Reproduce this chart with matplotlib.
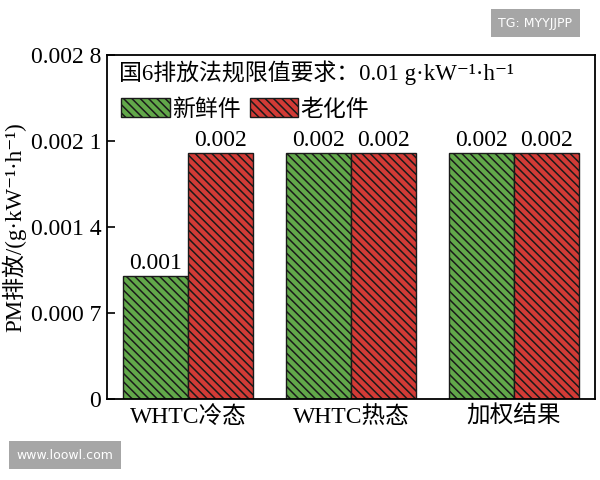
import matplotlib
matplotlib.use("Agg")
import matplotlib.pyplot as plt
import numpy as np

categories = ["WHTC冷态", "WHTC热态", "加权结果"]
fresh = [0.001, 0.002, 0.002]
aged = [0.002, 0.002, 0.002]
fresh_labels = ["0.001", "0.002", "0.002"]
aged_labels = ["0.002", "0.002", "0.002"]
yticks = [0, 0.0007, 0.0014, 0.0021, 0.0028]
ytick_labels = ["0", "0.000 7", "0.001 4", "0.002 1", "0.002 8"]
series_names = ["新鲜件", "老化件"]

FAM = ['Liberation Serif', 'Noto Sans CJK SC', 'DejaVu Sans']
plt.rcParams['font.family'] = FAM
plt.rcParams['hatch.linewidth'] = 1.1
plt.rcParams['hatch.color'] = '#1a1a1a'

fig = plt.figure(figsize=(6, 4.8), dpi=100)
ax = fig.add_axes([0.178, 0.169, 0.814, 0.716])

x = np.arange(len(categories))
w = 0.4
green = '#62a84a'
red = '#d23b36'
hatch = '\\\\\\\\'
ax.bar(x - w/2, fresh, w, color=green, edgecolor='#1a1a1a', linewidth=1.0,
       hatch=hatch, label=series_names[0])
ax.bar(x + w/2, aged, w, color=red, edgecolor='#1a1a1a', linewidth=1.0,
       hatch=hatch, label=series_names[1])

FS = 17
for xi, v, t in zip(x - w/2, fresh, fresh_labels):
    ax.text(xi, v + 0.00002, t, ha='center', va='bottom', fontsize=FS)
for xi, v, t in zip(x + w/2, aged, aged_labels):
    ax.text(xi, v + 0.00002, t, ha='center', va='bottom', fontsize=FS)

ax.set_xlim(-0.5, 2.5)
ax.set_ylim(0, 0.0028)
ax.set_yticks(yticks)
ax.set_yticklabels(ytick_labels)
ax.set_xticks(x)
ax.set_xticklabels(categories)
ax.tick_params(axis='y', direction='in', length=6, width=1.2, labelsize=FS, pad=4)
ax.tick_params(axis='x', length=0, labelsize=FS, pad=5)
for s in ax.spines.values():
    s.set_linewidth(1.3)

ax.set_ylabel("PM排放/(g·kW⁻¹·h⁻¹)", fontsize=16.5, labelpad=3)

ax.text(0.026, 0.985, "国6排放法规限值要求：0.01 g·kW⁻¹·h⁻¹",
        transform=ax.transAxes, ha='left', va='top', fontsize=16.5)

ax.legend(loc='upper left', bbox_to_anchor=(0.016, 0.895), ncol=2, frameon=False,
          fontsize=16.5, handlelength=2.1, handleheight=0.9, columnspacing=0.4,
          handletextpad=0.1, borderaxespad=0.0, borderpad=0.3)

fig.text(0.892, 0.952, "TG: MYYJJPP", color='white', fontsize=9, ha='center', va='center',
         family='DejaVu Sans',
         bbox=dict(boxstyle='square,pad=0.6', facecolor='#a6a6a6', edgecolor='none'))
fig.text(0.108, 0.052, "www.loowl.com", color='white', fontsize=9, ha='center', va='center',
         family='DejaVu Sans',
         bbox=dict(boxstyle='square,pad=0.6', facecolor='#a6a6a6', edgecolor='none'))

fig.savefig("out.png", dpi=100)
